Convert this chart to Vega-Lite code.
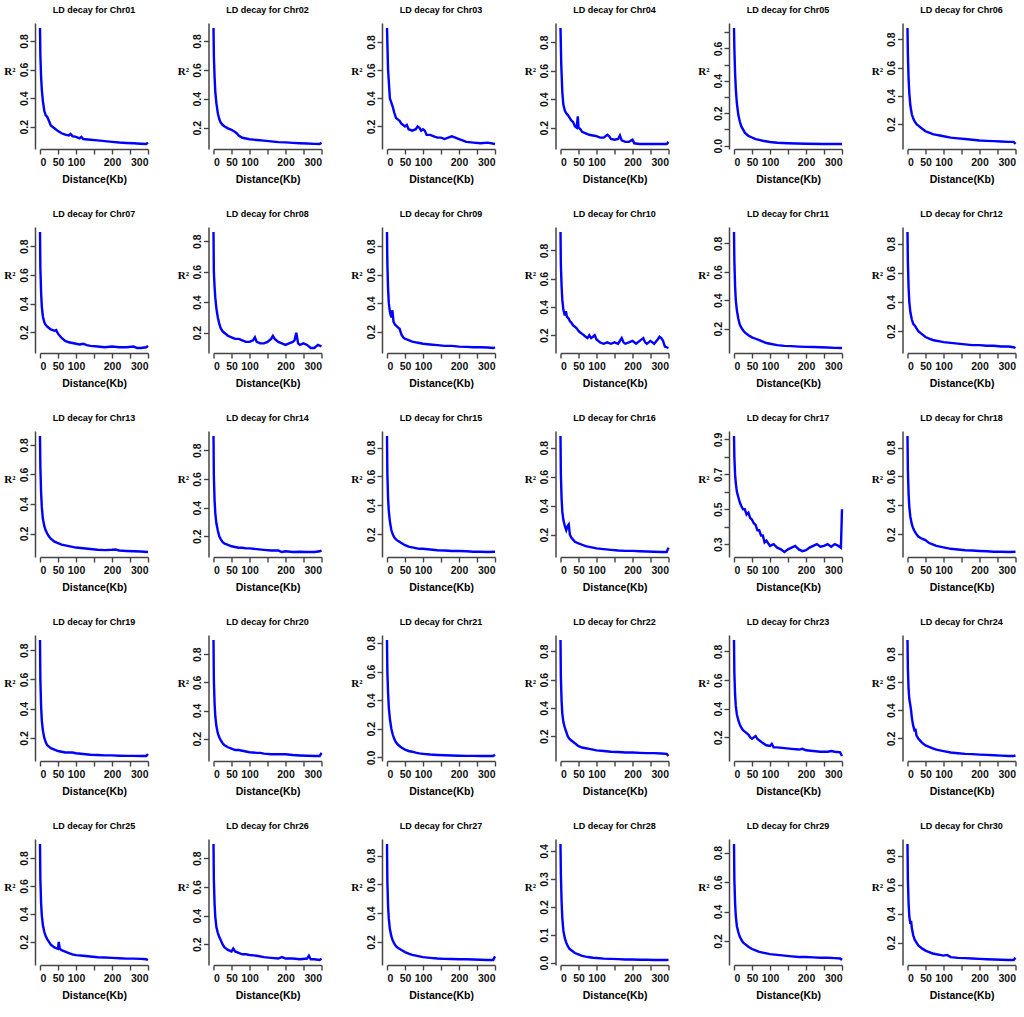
{
  "$schema": "https://vega.github.io/schema/vega-lite/v6.json",
  "padding": {"left": 3, "top": 6, "right": 0, "bottom": 0},
  "background": "white",
  "data": {
    "values": [
      {"c":"Chr01","d":0,"r":0.89},{"c":"Chr01","d":1,"r":0.7},{"c":"Chr01","d":3,"r":0.55},{"c":"Chr01","d":5,"r":0.46},{"c":"Chr01","d":8,"r":0.38},{"c":"Chr01","d":12,"r":0.31},{"c":"Chr01","d":16,"r":0.28},{"c":"Chr01","d":20,"r":0.27},{"c":"Chr01","d":25,"r":0.24},{"c":"Chr01","d":30,"r":0.21},{"c":"Chr01","d":40,"r":0.19},{"c":"Chr01","d":50,"r":0.17},{"c":"Chr01","d":60,"r":0.155},{"c":"Chr01","d":70,"r":0.145},{"c":"Chr01","d":80,"r":0.14},{"c":"Chr01","d":85,"r":0.15},{"c":"Chr01","d":90,"r":0.135},{"c":"Chr01","d":100,"r":0.13},{"c":"Chr01","d":110,"r":0.12},{"c":"Chr01","d":115,"r":0.13},{"c":"Chr01","d":120,"r":0.115},{"c":"Chr01","d":140,"r":0.11},{"c":"Chr01","d":160,"r":0.105},{"c":"Chr01","d":180,"r":0.1},{"c":"Chr01","d":200,"r":0.095},{"c":"Chr01","d":220,"r":0.09},{"c":"Chr01","d":240,"r":0.087},{"c":"Chr01","d":260,"r":0.085},{"c":"Chr01","d":280,"r":0.082},{"c":"Chr01","d":295,"r":0.08},{"c":"Chr01","d":300,"r":0.09},
      {"c":"Chr02","d":0,"r":0.89},{"c":"Chr02","d":1,"r":0.7},{"c":"Chr02","d":3,"r":0.55},{"c":"Chr02","d":5,"r":0.45},{"c":"Chr02","d":8,"r":0.37},{"c":"Chr02","d":12,"r":0.3},{"c":"Chr02","d":16,"r":0.26},{"c":"Chr02","d":20,"r":0.235},{"c":"Chr02","d":25,"r":0.22},{"c":"Chr02","d":30,"r":0.21},{"c":"Chr02","d":40,"r":0.195},{"c":"Chr02","d":50,"r":0.185},{"c":"Chr02","d":60,"r":0.17},{"c":"Chr02","d":65,"r":0.16},{"c":"Chr02","d":70,"r":0.145},{"c":"Chr02","d":80,"r":0.13},{"c":"Chr02","d":90,"r":0.125},{"c":"Chr02","d":100,"r":0.12},{"c":"Chr02","d":120,"r":0.115},{"c":"Chr02","d":140,"r":0.11},{"c":"Chr02","d":160,"r":0.105},{"c":"Chr02","d":180,"r":0.1},{"c":"Chr02","d":200,"r":0.098},{"c":"Chr02","d":220,"r":0.095},{"c":"Chr02","d":240,"r":0.092},{"c":"Chr02","d":260,"r":0.09},{"c":"Chr02","d":280,"r":0.088},{"c":"Chr02","d":295,"r":0.087},{"c":"Chr02","d":300,"r":0.095},
      {"c":"Chr03","d":0,"r":0.9},{"c":"Chr03","d":3,"r":0.6},{"c":"Chr03","d":8,"r":0.4},{"c":"Chr03","d":12,"r":0.37},{"c":"Chr03","d":16,"r":0.34},{"c":"Chr03","d":20,"r":0.3},{"c":"Chr03","d":25,"r":0.26},{"c":"Chr03","d":30,"r":0.25},{"c":"Chr03","d":35,"r":0.24},{"c":"Chr03","d":40,"r":0.22},{"c":"Chr03","d":50,"r":0.2},{"c":"Chr03","d":55,"r":0.21},{"c":"Chr03","d":60,"r":0.18},{"c":"Chr03","d":70,"r":0.17},{"c":"Chr03","d":80,"r":0.18},{"c":"Chr03","d":85,"r":0.2},{"c":"Chr03","d":90,"r":0.19},{"c":"Chr03","d":95,"r":0.17},{"c":"Chr03","d":100,"r":0.18},{"c":"Chr03","d":105,"r":0.17},{"c":"Chr03","d":110,"r":0.14},{"c":"Chr03","d":120,"r":0.14},{"c":"Chr03","d":130,"r":0.13},{"c":"Chr03","d":140,"r":0.12},{"c":"Chr03","d":150,"r":0.12},{"c":"Chr03","d":160,"r":0.11},{"c":"Chr03","d":170,"r":0.12},{"c":"Chr03","d":180,"r":0.13},{"c":"Chr03","d":190,"r":0.12},{"c":"Chr03","d":200,"r":0.11},{"c":"Chr03","d":210,"r":0.1},{"c":"Chr03","d":220,"r":0.09},{"c":"Chr03","d":240,"r":0.085},{"c":"Chr03","d":260,"r":0.08},{"c":"Chr03","d":280,"r":0.085},{"c":"Chr03","d":300,"r":0.075},
      {"c":"Chr04","d":0,"r":0.9},{"c":"Chr04","d":2,"r":0.65},{"c":"Chr04","d":5,"r":0.45},{"c":"Chr04","d":8,"r":0.36},{"c":"Chr04","d":12,"r":0.32},{"c":"Chr04","d":16,"r":0.3},{"c":"Chr04","d":20,"r":0.29},{"c":"Chr04","d":25,"r":0.27},{"c":"Chr04","d":30,"r":0.25},{"c":"Chr04","d":35,"r":0.24},{"c":"Chr04","d":40,"r":0.21},{"c":"Chr04","d":45,"r":0.2},{"c":"Chr04","d":48,"r":0.28},{"c":"Chr04","d":50,"r":0.2},{"c":"Chr04","d":55,"r":0.19},{"c":"Chr04","d":60,"r":0.17},{"c":"Chr04","d":70,"r":0.16},{"c":"Chr04","d":80,"r":0.15},{"c":"Chr04","d":90,"r":0.145},{"c":"Chr04","d":100,"r":0.14},{"c":"Chr04","d":110,"r":0.13},{"c":"Chr04","d":120,"r":0.13},{"c":"Chr04","d":130,"r":0.15},{"c":"Chr04","d":135,"r":0.14},{"c":"Chr04","d":140,"r":0.12},{"c":"Chr04","d":150,"r":0.115},{"c":"Chr04","d":160,"r":0.12},{"c":"Chr04","d":165,"r":0.145},{"c":"Chr04","d":170,"r":0.11},{"c":"Chr04","d":180,"r":0.1},{"c":"Chr04","d":190,"r":0.1},{"c":"Chr04","d":200,"r":0.115},{"c":"Chr04","d":205,"r":0.09},{"c":"Chr04","d":220,"r":0.085},{"c":"Chr04","d":240,"r":0.085},{"c":"Chr04","d":260,"r":0.085},{"c":"Chr04","d":280,"r":0.085},{"c":"Chr04","d":295,"r":0.085},{"c":"Chr04","d":300,"r":0.1},
      {"c":"Chr05","d":0,"r":0.726},{"c":"Chr05","d":1,"r":0.6},{"c":"Chr05","d":3,"r":0.45},{"c":"Chr05","d":5,"r":0.35},{"c":"Chr05","d":8,"r":0.26},{"c":"Chr05","d":12,"r":0.19},{"c":"Chr05","d":16,"r":0.15},{"c":"Chr05","d":20,"r":0.12},{"c":"Chr05","d":25,"r":0.1},{"c":"Chr05","d":30,"r":0.08},{"c":"Chr05","d":40,"r":0.06},{"c":"Chr05","d":50,"r":0.05},{"c":"Chr05","d":60,"r":0.04},{"c":"Chr05","d":70,"r":0.035},{"c":"Chr05","d":80,"r":0.03},{"c":"Chr05","d":100,"r":0.022},{"c":"Chr05","d":120,"r":0.018},{"c":"Chr05","d":150,"r":0.015},{"c":"Chr05","d":200,"r":0.012},{"c":"Chr05","d":250,"r":0.01},{"c":"Chr05","d":300,"r":0.01},
      {"c":"Chr06","d":0,"r":0.88},{"c":"Chr06","d":1,"r":0.7},{"c":"Chr06","d":3,"r":0.52},{"c":"Chr06","d":5,"r":0.42},{"c":"Chr06","d":8,"r":0.33},{"c":"Chr06","d":12,"r":0.27},{"c":"Chr06","d":16,"r":0.24},{"c":"Chr06","d":20,"r":0.22},{"c":"Chr06","d":25,"r":0.2},{"c":"Chr06","d":30,"r":0.19},{"c":"Chr06","d":40,"r":0.17},{"c":"Chr06","d":50,"r":0.15},{"c":"Chr06","d":60,"r":0.14},{"c":"Chr06","d":70,"r":0.13},{"c":"Chr06","d":80,"r":0.125},{"c":"Chr06","d":90,"r":0.12},{"c":"Chr06","d":100,"r":0.115},{"c":"Chr06","d":120,"r":0.105},{"c":"Chr06","d":140,"r":0.1},{"c":"Chr06","d":160,"r":0.095},{"c":"Chr06","d":180,"r":0.09},{"c":"Chr06","d":200,"r":0.085},{"c":"Chr06","d":220,"r":0.082},{"c":"Chr06","d":240,"r":0.08},{"c":"Chr06","d":260,"r":0.078},{"c":"Chr06","d":280,"r":0.075},{"c":"Chr06","d":295,"r":0.075},{"c":"Chr06","d":300,"r":0.06},
      {"c":"Chr07","d":0,"r":0.9},{"c":"Chr07","d":1,"r":0.65},{"c":"Chr07","d":3,"r":0.48},{"c":"Chr07","d":5,"r":0.38},{"c":"Chr07","d":8,"r":0.31},{"c":"Chr07","d":12,"r":0.27},{"c":"Chr07","d":16,"r":0.25},{"c":"Chr07","d":20,"r":0.24},{"c":"Chr07","d":25,"r":0.23},{"c":"Chr07","d":30,"r":0.22},{"c":"Chr07","d":40,"r":0.21},{"c":"Chr07","d":45,"r":0.215},{"c":"Chr07","d":50,"r":0.19},{"c":"Chr07","d":60,"r":0.16},{"c":"Chr07","d":70,"r":0.14},{"c":"Chr07","d":80,"r":0.13},{"c":"Chr07","d":90,"r":0.125},{"c":"Chr07","d":100,"r":0.12},{"c":"Chr07","d":110,"r":0.115},{"c":"Chr07","d":120,"r":0.12},{"c":"Chr07","d":130,"r":0.11},{"c":"Chr07","d":140,"r":0.105},{"c":"Chr07","d":160,"r":0.1},{"c":"Chr07","d":180,"r":0.095},{"c":"Chr07","d":200,"r":0.1},{"c":"Chr07","d":220,"r":0.095},{"c":"Chr07","d":240,"r":0.095},{"c":"Chr07","d":260,"r":0.1},{"c":"Chr07","d":270,"r":0.09},{"c":"Chr07","d":280,"r":0.09},{"c":"Chr07","d":295,"r":0.095},{"c":"Chr07","d":300,"r":0.105},
      {"c":"Chr08","d":0,"r":0.86},{"c":"Chr08","d":1,"r":0.6},{"c":"Chr08","d":3,"r":0.5},{"c":"Chr08","d":5,"r":0.43},{"c":"Chr08","d":8,"r":0.36},{"c":"Chr08","d":12,"r":0.3},{"c":"Chr08","d":16,"r":0.26},{"c":"Chr08","d":20,"r":0.23},{"c":"Chr08","d":25,"r":0.21},{"c":"Chr08","d":30,"r":0.2},{"c":"Chr08","d":40,"r":0.18},{"c":"Chr08","d":50,"r":0.17},{"c":"Chr08","d":60,"r":0.16},{"c":"Chr08","d":70,"r":0.16},{"c":"Chr08","d":80,"r":0.15},{"c":"Chr08","d":90,"r":0.14},{"c":"Chr08","d":100,"r":0.14},{"c":"Chr08","d":110,"r":0.15},{"c":"Chr08","d":115,"r":0.17},{"c":"Chr08","d":120,"r":0.14},{"c":"Chr08","d":130,"r":0.13},{"c":"Chr08","d":140,"r":0.13},{"c":"Chr08","d":150,"r":0.14},{"c":"Chr08","d":160,"r":0.16},{"c":"Chr08","d":165,"r":0.18},{"c":"Chr08","d":170,"r":0.16},{"c":"Chr08","d":180,"r":0.14},{"c":"Chr08","d":190,"r":0.13},{"c":"Chr08","d":200,"r":0.12},{"c":"Chr08","d":210,"r":0.13},{"c":"Chr08","d":220,"r":0.14},{"c":"Chr08","d":225,"r":0.15},{"c":"Chr08","d":230,"r":0.2},{"c":"Chr08","d":235,"r":0.13},{"c":"Chr08","d":240,"r":0.12},{"c":"Chr08","d":250,"r":0.13},{"c":"Chr08","d":260,"r":0.12},{"c":"Chr08","d":270,"r":0.1},{"c":"Chr08","d":280,"r":0.1},{"c":"Chr08","d":290,"r":0.12},{"c":"Chr08","d":300,"r":0.11},
      {"c":"Chr09","d":0,"r":0.9},{"c":"Chr09","d":1,"r":0.68},{"c":"Chr09","d":3,"r":0.5},{"c":"Chr09","d":5,"r":0.4},{"c":"Chr09","d":8,"r":0.34},{"c":"Chr09","d":12,"r":0.3},{"c":"Chr09","d":15,"r":0.35},{"c":"Chr09","d":18,"r":0.27},{"c":"Chr09","d":22,"r":0.25},{"c":"Chr09","d":26,"r":0.24},{"c":"Chr09","d":30,"r":0.23},{"c":"Chr09","d":35,"r":0.22},{"c":"Chr09","d":40,"r":0.18},{"c":"Chr09","d":45,"r":0.16},{"c":"Chr09","d":50,"r":0.15},{"c":"Chr09","d":60,"r":0.14},{"c":"Chr09","d":70,"r":0.13},{"c":"Chr09","d":80,"r":0.125},{"c":"Chr09","d":90,"r":0.12},{"c":"Chr09","d":100,"r":0.115},{"c":"Chr09","d":120,"r":0.11},{"c":"Chr09","d":140,"r":0.105},{"c":"Chr09","d":160,"r":0.1},{"c":"Chr09","d":180,"r":0.1},{"c":"Chr09","d":200,"r":0.095},{"c":"Chr09","d":220,"r":0.093},{"c":"Chr09","d":240,"r":0.09},{"c":"Chr09","d":260,"r":0.09},{"c":"Chr09","d":280,"r":0.088},{"c":"Chr09","d":295,"r":0.085},{"c":"Chr09","d":300,"r":0.09},
      {"c":"Chr10","d":0,"r":0.93},{"c":"Chr10","d":1,"r":0.7},{"c":"Chr10","d":3,"r":0.55},{"c":"Chr10","d":5,"r":0.45},{"c":"Chr10","d":8,"r":0.38},{"c":"Chr10","d":12,"r":0.34},{"c":"Chr10","d":15,"r":0.37},{"c":"Chr10","d":18,"r":0.33},{"c":"Chr10","d":22,"r":0.32},{"c":"Chr10","d":26,"r":0.3},{"c":"Chr10","d":30,"r":0.29},{"c":"Chr10","d":35,"r":0.27},{"c":"Chr10","d":40,"r":0.26},{"c":"Chr10","d":45,"r":0.25},{"c":"Chr10","d":50,"r":0.23},{"c":"Chr10","d":55,"r":0.22},{"c":"Chr10","d":60,"r":0.21},{"c":"Chr10","d":65,"r":0.2},{"c":"Chr10","d":70,"r":0.19},{"c":"Chr10","d":75,"r":0.18},{"c":"Chr10","d":80,"r":0.2},{"c":"Chr10","d":85,"r":0.18},{"c":"Chr10","d":90,"r":0.19},{"c":"Chr10","d":95,"r":0.2},{"c":"Chr10","d":100,"r":0.17},{"c":"Chr10","d":110,"r":0.15},{"c":"Chr10","d":120,"r":0.14},{"c":"Chr10","d":130,"r":0.15},{"c":"Chr10","d":140,"r":0.14},{"c":"Chr10","d":150,"r":0.15},{"c":"Chr10","d":160,"r":0.14},{"c":"Chr10","d":170,"r":0.18},{"c":"Chr10","d":175,"r":0.15},{"c":"Chr10","d":180,"r":0.14},{"c":"Chr10","d":190,"r":0.15},{"c":"Chr10","d":200,"r":0.16},{"c":"Chr10","d":210,"r":0.14},{"c":"Chr10","d":220,"r":0.16},{"c":"Chr10","d":230,"r":0.18},{"c":"Chr10","d":235,"r":0.15},{"c":"Chr10","d":240,"r":0.14},{"c":"Chr10","d":250,"r":0.16},{"c":"Chr10","d":260,"r":0.14},{"c":"Chr10","d":270,"r":0.17},{"c":"Chr10","d":275,"r":0.19},{"c":"Chr10","d":280,"r":0.18},{"c":"Chr10","d":285,"r":0.16},{"c":"Chr10","d":290,"r":0.12},{"c":"Chr10","d":300,"r":0.11},
      {"c":"Chr11","d":0,"r":0.88},{"c":"Chr11","d":1,"r":0.68},{"c":"Chr11","d":3,"r":0.5},{"c":"Chr11","d":5,"r":0.4},{"c":"Chr11","d":8,"r":0.33},{"c":"Chr11","d":12,"r":0.27},{"c":"Chr11","d":16,"r":0.23},{"c":"Chr11","d":20,"r":0.21},{"c":"Chr11","d":25,"r":0.19},{"c":"Chr11","d":30,"r":0.175},{"c":"Chr11","d":40,"r":0.155},{"c":"Chr11","d":50,"r":0.14},{"c":"Chr11","d":60,"r":0.13},{"c":"Chr11","d":70,"r":0.12},{"c":"Chr11","d":80,"r":0.11},{"c":"Chr11","d":90,"r":0.1},{"c":"Chr11","d":100,"r":0.095},{"c":"Chr11","d":120,"r":0.085},{"c":"Chr11","d":140,"r":0.08},{"c":"Chr11","d":160,"r":0.078},{"c":"Chr11","d":180,"r":0.075},{"c":"Chr11","d":200,"r":0.073},{"c":"Chr11","d":220,"r":0.072},{"c":"Chr11","d":240,"r":0.07},{"c":"Chr11","d":260,"r":0.068},{"c":"Chr11","d":280,"r":0.066},{"c":"Chr11","d":300,"r":0.065},
      {"c":"Chr12","d":0,"r":0.88},{"c":"Chr12","d":1,"r":0.68},{"c":"Chr12","d":3,"r":0.5},{"c":"Chr12","d":5,"r":0.4},{"c":"Chr12","d":8,"r":0.33},{"c":"Chr12","d":12,"r":0.28},{"c":"Chr12","d":16,"r":0.25},{"c":"Chr12","d":20,"r":0.24},{"c":"Chr12","d":25,"r":0.22},{"c":"Chr12","d":30,"r":0.2},{"c":"Chr12","d":40,"r":0.18},{"c":"Chr12","d":50,"r":0.16},{"c":"Chr12","d":60,"r":0.15},{"c":"Chr12","d":70,"r":0.14},{"c":"Chr12","d":80,"r":0.135},{"c":"Chr12","d":90,"r":0.13},{"c":"Chr12","d":100,"r":0.125},{"c":"Chr12","d":120,"r":0.12},{"c":"Chr12","d":140,"r":0.115},{"c":"Chr12","d":160,"r":0.11},{"c":"Chr12","d":180,"r":0.105},{"c":"Chr12","d":200,"r":0.105},{"c":"Chr12","d":220,"r":0.1},{"c":"Chr12","d":240,"r":0.1},{"c":"Chr12","d":260,"r":0.095},{"c":"Chr12","d":280,"r":0.095},{"c":"Chr12","d":295,"r":0.09},{"c":"Chr12","d":300,"r":0.085},
      {"c":"Chr13","d":0,"r":0.86},{"c":"Chr13","d":1,"r":0.65},{"c":"Chr13","d":3,"r":0.48},{"c":"Chr13","d":5,"r":0.38},{"c":"Chr13","d":8,"r":0.3},{"c":"Chr13","d":12,"r":0.25},{"c":"Chr13","d":16,"r":0.22},{"c":"Chr13","d":20,"r":0.2},{"c":"Chr13","d":25,"r":0.18},{"c":"Chr13","d":30,"r":0.165},{"c":"Chr13","d":40,"r":0.145},{"c":"Chr13","d":50,"r":0.135},{"c":"Chr13","d":60,"r":0.125},{"c":"Chr13","d":70,"r":0.12},{"c":"Chr13","d":80,"r":0.115},{"c":"Chr13","d":90,"r":0.11},{"c":"Chr13","d":100,"r":0.105},{"c":"Chr13","d":120,"r":0.1},{"c":"Chr13","d":140,"r":0.095},{"c":"Chr13","d":160,"r":0.09},{"c":"Chr13","d":180,"r":0.088},{"c":"Chr13","d":200,"r":0.09},{"c":"Chr13","d":210,"r":0.092},{"c":"Chr13","d":220,"r":0.085},{"c":"Chr13","d":240,"r":0.082},{"c":"Chr13","d":260,"r":0.08},{"c":"Chr13","d":280,"r":0.078},{"c":"Chr13","d":300,"r":0.075},
      {"c":"Chr14","d":0,"r":0.9},{"c":"Chr14","d":1,"r":0.62},{"c":"Chr14","d":3,"r":0.45},{"c":"Chr14","d":5,"r":0.36},{"c":"Chr14","d":8,"r":0.29},{"c":"Chr14","d":12,"r":0.24},{"c":"Chr14","d":16,"r":0.2},{"c":"Chr14","d":20,"r":0.18},{"c":"Chr14","d":25,"r":0.16},{"c":"Chr14","d":30,"r":0.15},{"c":"Chr14","d":40,"r":0.14},{"c":"Chr14","d":50,"r":0.13},{"c":"Chr14","d":60,"r":0.125},{"c":"Chr14","d":70,"r":0.12},{"c":"Chr14","d":80,"r":0.12},{"c":"Chr14","d":90,"r":0.115},{"c":"Chr14","d":100,"r":0.115},{"c":"Chr14","d":120,"r":0.11},{"c":"Chr14","d":140,"r":0.105},{"c":"Chr14","d":160,"r":0.1},{"c":"Chr14","d":180,"r":0.1},{"c":"Chr14","d":190,"r":0.09},{"c":"Chr14","d":200,"r":0.095},{"c":"Chr14","d":220,"r":0.09},{"c":"Chr14","d":240,"r":0.092},{"c":"Chr14","d":260,"r":0.09},{"c":"Chr14","d":280,"r":0.09},{"c":"Chr14","d":295,"r":0.095},{"c":"Chr14","d":300,"r":0.1},
      {"c":"Chr15","d":0,"r":0.88},{"c":"Chr15","d":1,"r":0.62},{"c":"Chr15","d":3,"r":0.45},{"c":"Chr15","d":5,"r":0.36},{"c":"Chr15","d":8,"r":0.29},{"c":"Chr15","d":12,"r":0.23},{"c":"Chr15","d":16,"r":0.2},{"c":"Chr15","d":20,"r":0.18},{"c":"Chr15","d":25,"r":0.165},{"c":"Chr15","d":30,"r":0.155},{"c":"Chr15","d":40,"r":0.14},{"c":"Chr15","d":50,"r":0.125},{"c":"Chr15","d":60,"r":0.115},{"c":"Chr15","d":70,"r":0.11},{"c":"Chr15","d":80,"r":0.105},{"c":"Chr15","d":90,"r":0.1},{"c":"Chr15","d":100,"r":0.1},{"c":"Chr15","d":120,"r":0.095},{"c":"Chr15","d":140,"r":0.09},{"c":"Chr15","d":160,"r":0.088},{"c":"Chr15","d":180,"r":0.085},{"c":"Chr15","d":200,"r":0.085},{"c":"Chr15","d":220,"r":0.083},{"c":"Chr15","d":240,"r":0.08},{"c":"Chr15","d":260,"r":0.08},{"c":"Chr15","d":280,"r":0.078},{"c":"Chr15","d":300,"r":0.08},
      {"c":"Chr16","d":0,"r":0.88},{"c":"Chr16","d":1,"r":0.62},{"c":"Chr16","d":3,"r":0.45},{"c":"Chr16","d":5,"r":0.36},{"c":"Chr16","d":8,"r":0.3},{"c":"Chr16","d":12,"r":0.26},{"c":"Chr16","d":16,"r":0.23},{"c":"Chr16","d":20,"r":0.26},{"c":"Chr16","d":23,"r":0.27},{"c":"Chr16","d":26,"r":0.2},{"c":"Chr16","d":30,"r":0.18},{"c":"Chr16","d":40,"r":0.15},{"c":"Chr16","d":50,"r":0.14},{"c":"Chr16","d":60,"r":0.13},{"c":"Chr16","d":70,"r":0.12},{"c":"Chr16","d":80,"r":0.115},{"c":"Chr16","d":90,"r":0.11},{"c":"Chr16","d":100,"r":0.105},{"c":"Chr16","d":120,"r":0.1},{"c":"Chr16","d":140,"r":0.095},{"c":"Chr16","d":160,"r":0.09},{"c":"Chr16","d":180,"r":0.088},{"c":"Chr16","d":200,"r":0.088},{"c":"Chr16","d":220,"r":0.085},{"c":"Chr16","d":240,"r":0.083},{"c":"Chr16","d":260,"r":0.082},{"c":"Chr16","d":280,"r":0.08},{"c":"Chr16","d":295,"r":0.08},{"c":"Chr16","d":300,"r":0.11},
      {"c":"Chr17","d":0,"r":0.92},{"c":"Chr17","d":1,"r":0.8},{"c":"Chr17","d":3,"r":0.7},{"c":"Chr17","d":5,"r":0.65},{"c":"Chr17","d":8,"r":0.6},{"c":"Chr17","d":12,"r":0.57},{"c":"Chr17","d":16,"r":0.54},{"c":"Chr17","d":20,"r":0.52},{"c":"Chr17","d":25,"r":0.5},{"c":"Chr17","d":30,"r":0.5},{"c":"Chr17","d":35,"r":0.47},{"c":"Chr17","d":40,"r":0.48},{"c":"Chr17","d":45,"r":0.45},{"c":"Chr17","d":50,"r":0.44},{"c":"Chr17","d":55,"r":0.42},{"c":"Chr17","d":60,"r":0.41},{"c":"Chr17","d":65,"r":0.38},{"c":"Chr17","d":70,"r":0.38},{"c":"Chr17","d":75,"r":0.35},{"c":"Chr17","d":80,"r":0.35},{"c":"Chr17","d":85,"r":0.31},{"c":"Chr17","d":90,"r":0.32},{"c":"Chr17","d":100,"r":0.29},{"c":"Chr17","d":110,"r":0.3},{"c":"Chr17","d":120,"r":0.28},{"c":"Chr17","d":130,"r":0.27},{"c":"Chr17","d":140,"r":0.255},{"c":"Chr17","d":150,"r":0.27},{"c":"Chr17","d":160,"r":0.28},{"c":"Chr17","d":170,"r":0.29},{"c":"Chr17","d":180,"r":0.27},{"c":"Chr17","d":190,"r":0.26},{"c":"Chr17","d":200,"r":0.265},{"c":"Chr17","d":210,"r":0.28},{"c":"Chr17","d":220,"r":0.29},{"c":"Chr17","d":230,"r":0.3},{"c":"Chr17","d":240,"r":0.285},{"c":"Chr17","d":250,"r":0.29},{"c":"Chr17","d":260,"r":0.3},{"c":"Chr17","d":270,"r":0.285},{"c":"Chr17","d":280,"r":0.3},{"c":"Chr17","d":290,"r":0.29},{"c":"Chr17","d":297,"r":0.28},{"c":"Chr17","d":300,"r":0.5},
      {"c":"Chr18","d":0,"r":0.88},{"c":"Chr18","d":1,"r":0.65},{"c":"Chr18","d":3,"r":0.48},{"c":"Chr18","d":5,"r":0.39},{"c":"Chr18","d":8,"r":0.32},{"c":"Chr18","d":12,"r":0.27},{"c":"Chr18","d":16,"r":0.24},{"c":"Chr18","d":20,"r":0.22},{"c":"Chr18","d":25,"r":0.2},{"c":"Chr18","d":30,"r":0.185},{"c":"Chr18","d":40,"r":0.17},{"c":"Chr18","d":50,"r":0.16},{"c":"Chr18","d":55,"r":0.15},{"c":"Chr18","d":60,"r":0.14},{"c":"Chr18","d":70,"r":0.13},{"c":"Chr18","d":80,"r":0.12},{"c":"Chr18","d":90,"r":0.115},{"c":"Chr18","d":100,"r":0.11},{"c":"Chr18","d":120,"r":0.1},{"c":"Chr18","d":140,"r":0.095},{"c":"Chr18","d":160,"r":0.09},{"c":"Chr18","d":180,"r":0.088},{"c":"Chr18","d":200,"r":0.085},{"c":"Chr18","d":220,"r":0.083},{"c":"Chr18","d":240,"r":0.08},{"c":"Chr18","d":260,"r":0.08},{"c":"Chr18","d":280,"r":0.078},{"c":"Chr18","d":300,"r":0.08},
      {"c":"Chr19","d":0,"r":0.87},{"c":"Chr19","d":1,"r":0.6},{"c":"Chr19","d":3,"r":0.42},{"c":"Chr19","d":5,"r":0.32},{"c":"Chr19","d":8,"r":0.25},{"c":"Chr19","d":12,"r":0.2},{"c":"Chr19","d":16,"r":0.17},{"c":"Chr19","d":20,"r":0.15},{"c":"Chr19","d":25,"r":0.14},{"c":"Chr19","d":30,"r":0.13},{"c":"Chr19","d":40,"r":0.12},{"c":"Chr19","d":50,"r":0.11},{"c":"Chr19","d":60,"r":0.105},{"c":"Chr19","d":70,"r":0.1},{"c":"Chr19","d":80,"r":0.1},{"c":"Chr19","d":90,"r":0.1},{"c":"Chr19","d":100,"r":0.095},{"c":"Chr19","d":120,"r":0.09},{"c":"Chr19","d":140,"r":0.085},{"c":"Chr19","d":160,"r":0.083},{"c":"Chr19","d":180,"r":0.08},{"c":"Chr19","d":200,"r":0.08},{"c":"Chr19","d":220,"r":0.078},{"c":"Chr19","d":240,"r":0.077},{"c":"Chr19","d":260,"r":0.077},{"c":"Chr19","d":280,"r":0.076},{"c":"Chr19","d":295,"r":0.076},{"c":"Chr19","d":300,"r":0.09},
      {"c":"Chr20","d":0,"r":0.9},{"c":"Chr20","d":1,"r":0.62},{"c":"Chr20","d":3,"r":0.45},{"c":"Chr20","d":5,"r":0.36},{"c":"Chr20","d":8,"r":0.29},{"c":"Chr20","d":12,"r":0.24},{"c":"Chr20","d":16,"r":0.21},{"c":"Chr20","d":20,"r":0.19},{"c":"Chr20","d":25,"r":0.17},{"c":"Chr20","d":30,"r":0.155},{"c":"Chr20","d":40,"r":0.14},{"c":"Chr20","d":50,"r":0.13},{"c":"Chr20","d":60,"r":0.12},{"c":"Chr20","d":70,"r":0.12},{"c":"Chr20","d":80,"r":0.115},{"c":"Chr20","d":90,"r":0.11},{"c":"Chr20","d":100,"r":0.105},{"c":"Chr20","d":120,"r":0.1},{"c":"Chr20","d":130,"r":0.1},{"c":"Chr20","d":140,"r":0.095},{"c":"Chr20","d":160,"r":0.09},{"c":"Chr20","d":180,"r":0.09},{"c":"Chr20","d":200,"r":0.09},{"c":"Chr20","d":220,"r":0.085},{"c":"Chr20","d":240,"r":0.082},{"c":"Chr20","d":260,"r":0.08},{"c":"Chr20","d":280,"r":0.078},{"c":"Chr20","d":295,"r":0.078},{"c":"Chr20","d":300,"r":0.1},
      {"c":"Chr21","d":0,"r":0.82},{"c":"Chr21","d":1,"r":0.6},{"c":"Chr21","d":3,"r":0.45},{"c":"Chr21","d":5,"r":0.35},{"c":"Chr21","d":8,"r":0.27},{"c":"Chr21","d":12,"r":0.2},{"c":"Chr21","d":16,"r":0.16},{"c":"Chr21","d":20,"r":0.13},{"c":"Chr21","d":25,"r":0.105},{"c":"Chr21","d":30,"r":0.09},{"c":"Chr21","d":40,"r":0.07},{"c":"Chr21","d":50,"r":0.055},{"c":"Chr21","d":60,"r":0.045},{"c":"Chr21","d":70,"r":0.04},{"c":"Chr21","d":80,"r":0.033},{"c":"Chr21","d":90,"r":0.028},{"c":"Chr21","d":100,"r":0.025},{"c":"Chr21","d":120,"r":0.02},{"c":"Chr21","d":140,"r":0.017},{"c":"Chr21","d":160,"r":0.015},{"c":"Chr21","d":180,"r":0.013},{"c":"Chr21","d":200,"r":0.012},{"c":"Chr21","d":220,"r":0.011},{"c":"Chr21","d":240,"r":0.011},{"c":"Chr21","d":260,"r":0.01},{"c":"Chr21","d":280,"r":0.01},{"c":"Chr21","d":295,"r":0.01},{"c":"Chr21","d":300,"r":0.02},
      {"c":"Chr22","d":0,"r":0.88},{"c":"Chr22","d":1,"r":0.62},{"c":"Chr22","d":3,"r":0.45},{"c":"Chr22","d":5,"r":0.36},{"c":"Chr22","d":8,"r":0.3},{"c":"Chr22","d":12,"r":0.26},{"c":"Chr22","d":16,"r":0.23},{"c":"Chr22","d":20,"r":0.2},{"c":"Chr22","d":25,"r":0.18},{"c":"Chr22","d":30,"r":0.17},{"c":"Chr22","d":40,"r":0.15},{"c":"Chr22","d":50,"r":0.13},{"c":"Chr22","d":60,"r":0.12},{"c":"Chr22","d":70,"r":0.115},{"c":"Chr22","d":80,"r":0.11},{"c":"Chr22","d":90,"r":0.105},{"c":"Chr22","d":100,"r":0.1},{"c":"Chr22","d":120,"r":0.095},{"c":"Chr22","d":140,"r":0.09},{"c":"Chr22","d":160,"r":0.088},{"c":"Chr22","d":180,"r":0.085},{"c":"Chr22","d":200,"r":0.085},{"c":"Chr22","d":220,"r":0.082},{"c":"Chr22","d":240,"r":0.08},{"c":"Chr22","d":260,"r":0.08},{"c":"Chr22","d":280,"r":0.078},{"c":"Chr22","d":295,"r":0.075},{"c":"Chr22","d":300,"r":0.06},
      {"c":"Chr23","d":0,"r":0.88},{"c":"Chr23","d":1,"r":0.65},{"c":"Chr23","d":3,"r":0.5},{"c":"Chr23","d":5,"r":0.42},{"c":"Chr23","d":8,"r":0.36},{"c":"Chr23","d":12,"r":0.32},{"c":"Chr23","d":16,"r":0.29},{"c":"Chr23","d":20,"r":0.27},{"c":"Chr23","d":25,"r":0.25},{"c":"Chr23","d":30,"r":0.24},{"c":"Chr23","d":40,"r":0.22},{"c":"Chr23","d":45,"r":0.2},{"c":"Chr23","d":50,"r":0.19},{"c":"Chr23","d":55,"r":0.2},{"c":"Chr23","d":60,"r":0.21},{"c":"Chr23","d":65,"r":0.19},{"c":"Chr23","d":70,"r":0.18},{"c":"Chr23","d":80,"r":0.16},{"c":"Chr23","d":90,"r":0.145},{"c":"Chr23","d":100,"r":0.14},{"c":"Chr23","d":105,"r":0.155},{"c":"Chr23","d":110,"r":0.13},{"c":"Chr23","d":120,"r":0.13},{"c":"Chr23","d":140,"r":0.125},{"c":"Chr23","d":160,"r":0.12},{"c":"Chr23","d":180,"r":0.115},{"c":"Chr23","d":190,"r":0.12},{"c":"Chr23","d":200,"r":0.11},{"c":"Chr23","d":220,"r":0.105},{"c":"Chr23","d":240,"r":0.1},{"c":"Chr23","d":260,"r":0.1},{"c":"Chr23","d":270,"r":0.105},{"c":"Chr23","d":280,"r":0.1},{"c":"Chr23","d":295,"r":0.095},{"c":"Chr23","d":300,"r":0.07},
      {"c":"Chr24","d":0,"r":0.9},{"c":"Chr24","d":1,"r":0.7},{"c":"Chr24","d":3,"r":0.55},{"c":"Chr24","d":5,"r":0.48},{"c":"Chr24","d":7,"r":0.45},{"c":"Chr24","d":10,"r":0.4},{"c":"Chr24","d":12,"r":0.35},{"c":"Chr24","d":15,"r":0.3},{"c":"Chr24","d":18,"r":0.27},{"c":"Chr24","d":20,"r":0.25},{"c":"Chr24","d":22,"r":0.27},{"c":"Chr24","d":25,"r":0.22},{"c":"Chr24","d":30,"r":0.2},{"c":"Chr24","d":40,"r":0.17},{"c":"Chr24","d":50,"r":0.15},{"c":"Chr24","d":60,"r":0.14},{"c":"Chr24","d":70,"r":0.13},{"c":"Chr24","d":80,"r":0.12},{"c":"Chr24","d":90,"r":0.115},{"c":"Chr24","d":100,"r":0.11},{"c":"Chr24","d":120,"r":0.1},{"c":"Chr24","d":140,"r":0.095},{"c":"Chr24","d":160,"r":0.09},{"c":"Chr24","d":180,"r":0.088},{"c":"Chr24","d":200,"r":0.085},{"c":"Chr24","d":220,"r":0.083},{"c":"Chr24","d":240,"r":0.08},{"c":"Chr24","d":260,"r":0.078},{"c":"Chr24","d":280,"r":0.075},{"c":"Chr24","d":295,"r":0.075},{"c":"Chr24","d":300,"r":0.08},
      {"c":"Chr25","d":0,"r":0.9},{"c":"Chr25","d":1,"r":0.65},{"c":"Chr25","d":3,"r":0.48},{"c":"Chr25","d":5,"r":0.39},{"c":"Chr25","d":8,"r":0.32},{"c":"Chr25","d":12,"r":0.27},{"c":"Chr25","d":16,"r":0.24},{"c":"Chr25","d":20,"r":0.22},{"c":"Chr25","d":25,"r":0.2},{"c":"Chr25","d":30,"r":0.18},{"c":"Chr25","d":40,"r":0.16},{"c":"Chr25","d":50,"r":0.15},{"c":"Chr25","d":52,"r":0.2},{"c":"Chr25","d":55,"r":0.15},{"c":"Chr25","d":60,"r":0.14},{"c":"Chr25","d":70,"r":0.13},{"c":"Chr25","d":80,"r":0.12},{"c":"Chr25","d":90,"r":0.11},{"c":"Chr25","d":100,"r":0.105},{"c":"Chr25","d":120,"r":0.1},{"c":"Chr25","d":140,"r":0.095},{"c":"Chr25","d":160,"r":0.09},{"c":"Chr25","d":180,"r":0.088},{"c":"Chr25","d":200,"r":0.085},{"c":"Chr25","d":220,"r":0.083},{"c":"Chr25","d":240,"r":0.08},{"c":"Chr25","d":260,"r":0.08},{"c":"Chr25","d":280,"r":0.078},{"c":"Chr25","d":295,"r":0.075},{"c":"Chr25","d":300,"r":0.07},
      {"c":"Chr26","d":0,"r":0.9},{"c":"Chr26","d":1,"r":0.65},{"c":"Chr26","d":3,"r":0.48},{"c":"Chr26","d":5,"r":0.39},{"c":"Chr26","d":8,"r":0.32},{"c":"Chr26","d":12,"r":0.28},{"c":"Chr26","d":16,"r":0.25},{"c":"Chr26","d":20,"r":0.23},{"c":"Chr26","d":25,"r":0.2},{"c":"Chr26","d":30,"r":0.18},{"c":"Chr26","d":40,"r":0.16},{"c":"Chr26","d":50,"r":0.15},{"c":"Chr26","d":55,"r":0.17},{"c":"Chr26","d":60,"r":0.15},{"c":"Chr26","d":70,"r":0.14},{"c":"Chr26","d":80,"r":0.13},{"c":"Chr26","d":90,"r":0.13},{"c":"Chr26","d":100,"r":0.125},{"c":"Chr26","d":120,"r":0.12},{"c":"Chr26","d":140,"r":0.11},{"c":"Chr26","d":160,"r":0.105},{"c":"Chr26","d":180,"r":0.1},{"c":"Chr26","d":190,"r":0.11},{"c":"Chr26","d":200,"r":0.1},{"c":"Chr26","d":220,"r":0.1},{"c":"Chr26","d":240,"r":0.095},{"c":"Chr26","d":260,"r":0.1},{"c":"Chr26","d":265,"r":0.12},{"c":"Chr26","d":270,"r":0.095},{"c":"Chr26","d":280,"r":0.095},{"c":"Chr26","d":295,"r":0.09},{"c":"Chr26","d":300,"r":0.1},
      {"c":"Chr27","d":0,"r":0.88},{"c":"Chr27","d":1,"r":0.62},{"c":"Chr27","d":3,"r":0.45},{"c":"Chr27","d":5,"r":0.36},{"c":"Chr27","d":8,"r":0.29},{"c":"Chr27","d":12,"r":0.24},{"c":"Chr27","d":16,"r":0.21},{"c":"Chr27","d":20,"r":0.19},{"c":"Chr27","d":25,"r":0.17},{"c":"Chr27","d":30,"r":0.16},{"c":"Chr27","d":40,"r":0.145},{"c":"Chr27","d":50,"r":0.13},{"c":"Chr27","d":60,"r":0.12},{"c":"Chr27","d":70,"r":0.11},{"c":"Chr27","d":80,"r":0.105},{"c":"Chr27","d":90,"r":0.1},{"c":"Chr27","d":100,"r":0.095},{"c":"Chr27","d":120,"r":0.09},{"c":"Chr27","d":140,"r":0.085},{"c":"Chr27","d":160,"r":0.083},{"c":"Chr27","d":180,"r":0.082},{"c":"Chr27","d":200,"r":0.08},{"c":"Chr27","d":220,"r":0.08},{"c":"Chr27","d":240,"r":0.078},{"c":"Chr27","d":260,"r":0.077},{"c":"Chr27","d":280,"r":0.075},{"c":"Chr27","d":295,"r":0.075},{"c":"Chr27","d":300,"r":0.1},
      {"c":"Chr28","d":0,"r":0.425},{"c":"Chr28","d":1,"r":0.32},{"c":"Chr28","d":3,"r":0.22},{"c":"Chr28","d":5,"r":0.16},{"c":"Chr28","d":8,"r":0.115},{"c":"Chr28","d":12,"r":0.088},{"c":"Chr28","d":16,"r":0.072},{"c":"Chr28","d":20,"r":0.06},{"c":"Chr28","d":25,"r":0.05},{"c":"Chr28","d":30,"r":0.045},{"c":"Chr28","d":40,"r":0.035},{"c":"Chr28","d":50,"r":0.03},{"c":"Chr28","d":60,"r":0.025},{"c":"Chr28","d":70,"r":0.022},{"c":"Chr28","d":80,"r":0.02},{"c":"Chr28","d":90,"r":0.018},{"c":"Chr28","d":100,"r":0.017},{"c":"Chr28","d":120,"r":0.015},{"c":"Chr28","d":140,"r":0.014},{"c":"Chr28","d":160,"r":0.013},{"c":"Chr28","d":180,"r":0.012},{"c":"Chr28","d":200,"r":0.012},{"c":"Chr28","d":220,"r":0.011},{"c":"Chr28","d":240,"r":0.011},{"c":"Chr28","d":260,"r":0.01},{"c":"Chr28","d":280,"r":0.01},{"c":"Chr28","d":300,"r":0.01},
      {"c":"Chr29","d":0,"r":0.86},{"c":"Chr29","d":1,"r":0.62},{"c":"Chr29","d":3,"r":0.46},{"c":"Chr29","d":5,"r":0.37},{"c":"Chr29","d":8,"r":0.3},{"c":"Chr29","d":12,"r":0.26},{"c":"Chr29","d":16,"r":0.23},{"c":"Chr29","d":20,"r":0.21},{"c":"Chr29","d":25,"r":0.19},{"c":"Chr29","d":30,"r":0.18},{"c":"Chr29","d":40,"r":0.16},{"c":"Chr29","d":50,"r":0.145},{"c":"Chr29","d":60,"r":0.135},{"c":"Chr29","d":70,"r":0.125},{"c":"Chr29","d":80,"r":0.12},{"c":"Chr29","d":90,"r":0.115},{"c":"Chr29","d":100,"r":0.11},{"c":"Chr29","d":120,"r":0.105},{"c":"Chr29","d":140,"r":0.1},{"c":"Chr29","d":160,"r":0.095},{"c":"Chr29","d":180,"r":0.09},{"c":"Chr29","d":200,"r":0.09},{"c":"Chr29","d":220,"r":0.088},{"c":"Chr29","d":240,"r":0.085},{"c":"Chr29","d":260,"r":0.085},{"c":"Chr29","d":280,"r":0.083},{"c":"Chr29","d":295,"r":0.08},{"c":"Chr29","d":300,"r":0.07},
      {"c":"Chr30","d":0,"r":0.88},{"c":"Chr30","d":1,"r":0.64},{"c":"Chr30","d":3,"r":0.47},{"c":"Chr30","d":5,"r":0.38},{"c":"Chr30","d":8,"r":0.33},{"c":"Chr30","d":10,"r":0.35},{"c":"Chr30","d":12,"r":0.3},{"c":"Chr30","d":16,"r":0.25},{"c":"Chr30","d":20,"r":0.22},{"c":"Chr30","d":25,"r":0.2},{"c":"Chr30","d":30,"r":0.18},{"c":"Chr30","d":40,"r":0.16},{"c":"Chr30","d":50,"r":0.145},{"c":"Chr30","d":60,"r":0.135},{"c":"Chr30","d":70,"r":0.125},{"c":"Chr30","d":80,"r":0.12},{"c":"Chr30","d":90,"r":0.115},{"c":"Chr30","d":100,"r":0.11},{"c":"Chr30","d":110,"r":0.115},{"c":"Chr30","d":120,"r":0.1},{"c":"Chr30","d":140,"r":0.095},{"c":"Chr30","d":160,"r":0.093},{"c":"Chr30","d":180,"r":0.09},{"c":"Chr30","d":200,"r":0.088},{"c":"Chr30","d":220,"r":0.085},{"c":"Chr30","d":240,"r":0.083},{"c":"Chr30","d":260,"r":0.082},{"c":"Chr30","d":280,"r":0.08},{"c":"Chr30","d":295,"r":0.08},{"c":"Chr30","d":300,"r":0.095}
    ]
  },
  "facet": {
    "field": "c",
    "type": "nominal",
    "header": {
      "title": null,
      "labelExpr": "'LD decay for ' + datum.value",
      "labelFont": "Liberation Sans",
      "labelFontWeight": "bold",
      "labelFontSize": 9,
      "labelColor": "#000",
      "labelPadding": 8
    }
  },
  "columns": 6,
  "spacing": {"column": 23.5, "row": 25},
  "resolve": {"scale": {"y": "independent"}, "axis": {"x": "independent", "y": "independent"}},
  "spec": {
    "width": 108,
    "height": 126,
    "mark": {"type": "line", "color": "#0000ff", "strokeWidth": 2.4},
    "encoding": {
      "x": {
        "field": "d",
        "type": "quantitative",
        "scale": {"domain": [0, 300], "nice": false},
        "axis": {
          "title": "Distance(Kb)",
          "values": [0, 50, 100, 150, 200, 250, 300],
          "labelExpr": "datum.value == 150 || datum.value == 250 ? '' : datum.label",
          "labelOverlap": false,
          "domain": true,
          "ticks": true,
          "domainColor": "#444444",
          "tickColor": "#444444",
          "domainWidth": 1.5,
          "tickWidth": 1.4,
          "tickSize": 5,
          "labelPadding": 3,
          "titlePadding": 7
        }
      },
      "y": {
        "field": "r",
        "type": "quantitative",
        "scale": {"zero": false, "nice": false, "padding": 5},
        "axis": {
          "title": "R²",
          "titleFont": "Liberation Serif",
          "titleFontSize": 11,
          "titleAngle": 0,
          "titleAlign": "right",
          "titleBaseline": "middle",
          "titleX": -20,
          "titleY": 48,
          "labelAngle": 270,
          "tickCount": 5.7,
          "format": ".1f",
          "offset": 5,
          "labelPadding": 1,
          "labelSeparation": 4,
          "domainColor": "#444444",
          "tickColor": "#444444",
          "domainWidth": 1.5,
          "tickWidth": 1.4,
          "tickSize": 5
        }
      }
    }
  },
  "config": {
    "font": "Liberation Sans",
    "view": {"stroke": null},
    "axis": {
      "grid": false,
      "labelFont": "Liberation Sans",
      "labelFontWeight": "bold",
      "labelFontSize": 10.5,
      "labelColor": "#111",
      "titleFont": "Liberation Sans",
      "titleFontWeight": "bold",
      "titleFontSize": 10.5,
      "titleColor": "#000"
    }
  }
}
